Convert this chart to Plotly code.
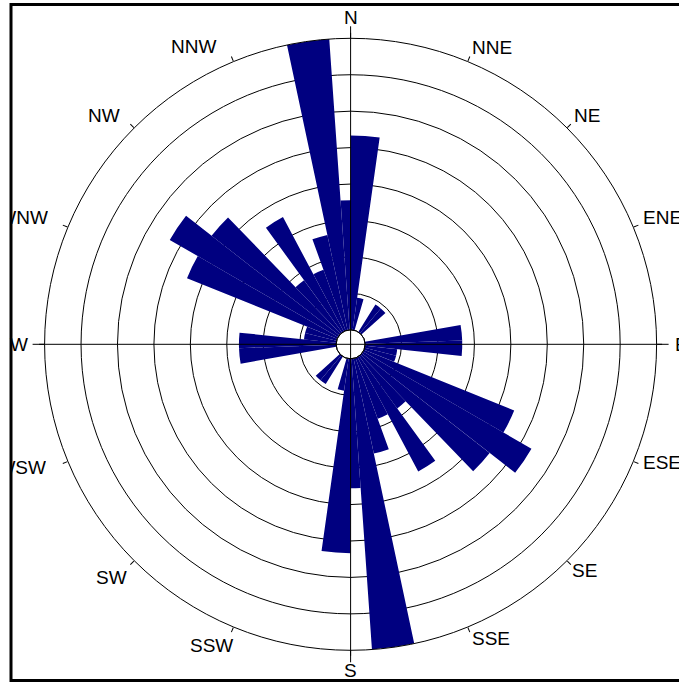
import plotly.graph_objects as go

# ---- data: axial rose diagram, 8-degree bins (0-180), mirrored through 180 ----
bin_centers = [4, 12, 20, 28, 36, 44, 52, 60, 68, 76, 84, 92, 100, 108,
               116, 124, 132, 140, 148, 156, 164, 172, 180]
counts = [6, 1, 0, 0, 1, 1, 0, 0, 0, 0, 3, 3, 1, 1,
          5, 6, 5, 2, 4, 2, 3, 9, 4]
bin_width = 8
compass_angles = [0, 22.5, 45, 67.5, 90, 112.5, 135, 157.5,
                  180, 202.5, 225, 247.5, 270, 292.5, 315, 337.5]
compass_labels = ["N", "NNE", "NE", "ENE", "E", "ESE", "SE", "SSE",
                  "S", "SSW", "SW", "WSW", "W", "WNW", "NW", "NNW"]
r_max = 9
n_rings = 8

theta_all = bin_centers + [(c + 180) % 360 for c in bin_centers]
r_all = counts + counts

# ---- geometry (pixels) ----
W, H = 679, 683
cx, cy, R = 350.6, 344.3, 306.0
hole_px = 14.5
frame_left = 11
FONT = "Liberation Sans, Arial, sans-serif"
FS = 19

# label anchor points (x edge / y centre, px) and horizontal anchor
label_pos = {
    "N": (cx, 17.5, "center"), "NNE": (470, 47.5, "left"), "NE": (572, 115.5, "left"),
    "ENE": (641, 217.5, "left"), "E": (673, 344, "left"), "ESE": (641, 462.5, "left"),
    "SE": (570, 570.5, "left"), "SSE": (470, 638.5, "left"), "S": (cx, 670, "center"),
    "SSW": (235, 645, "right"), "SW": (129, 577.5, "right"), "WSW": (48, 467.5, "right"),
    "W": (30, 344, "right"), "WNW": (50, 217.5, "right"), "NW": (122, 115.5, "right"),
    "NNW": (218, 47, "right"),
}


def px(x):
    return x / W


def py(y):
    return 1 - y / H


fig = go.Figure()
fig.add_trace(go.Barpolar(
    r=r_all, theta=theta_all, width=[bin_width] * len(theta_all),
    marker=dict(color="#000080", line=dict(width=0)),
    hoverinfo="skip",
))

ring_vals = [r_max * k / n_rings for k in range(1, n_rings)]

fig.update_layout(
    width=W, height=H,
    margin=dict(l=0, r=0, t=0, b=0, pad=0),
    paper_bgcolor="white",
    showlegend=False,
    font=dict(family=FONT, size=FS, color="black"),
    polar=dict(
        domain=dict(x=[px(cx - R), px(cx + R)], y=[py(cy + R), py(cy - R)]),
        bgcolor="white",
        hole=hole_px / R,
        bargap=0,
        radialaxis=dict(range=[0, r_max], tickvals=ring_vals, showticklabels=False,
                        ticks="", showline=False, showgrid=True,
                        gridcolor="black", gridwidth=1),
        angularaxis=dict(direction="clockwise", rotation=90,
                         tickmode="array", tickvals=compass_angles,
                         ticktext=compass_labels, showticklabels=False,
                         ticks="outside", ticklen=5, tickcolor="black", tickwidth=1,
                         showline=True, linecolor="black", linewidth=1,
                         showgrid=False),
    ),
)

# ---- compass labels ----
char_w = {"N": 0.722, "S": 0.667, "E": 0.667, "W": 0.944}
annotations = []
for lab in compass_labels:
    x, y, anchor = label_pos[lab]
    ann = dict(text=lab, xref="paper", yref="paper", showarrow=False,
               x=px(x), y=py(y), xanchor=anchor, yanchor="middle",
               font=dict(family=FONT, size=FS, color="black"))
    if anchor == "right":
        ann["align"] = "right"
        tw = sum(char_w[ch] for ch in lab) * FS
        visible = x - (frame_left + 1)
        if tw > visible:
            ann["width"] = max(visible, 1)
    annotations.append(ann)
fig.update_layout(annotations=annotations)

ext = 12
shapes = [
    dict(type="line", xref="paper", yref="paper", x0=px(cx), x1=px(cx),
         y0=py(cy - R - ext), y1=py(cy + R + ext), line=dict(color="black", width=1),
         layer="above"),
    dict(type="line", xref="paper", yref="paper", x0=px(cx - R - ext), x1=px(cx + R + ext),
         y0=py(cy), y1=py(cy), line=dict(color="black", width=1), layer="above"),
    dict(type="circle", xref="paper", yref="paper",
         x0=px(cx - hole_px), x1=px(cx + hole_px), y0=py(cy + hole_px), y1=py(cy - hole_px),
         line=dict(color="black", width=1), fillcolor="rgba(0,0,0,0)", layer="above"),
    dict(type="rect", xref="paper", yref="paper", x0=px(frame_left), x1=px(700),
         y0=py(680.5), y1=py(4.5), line=dict(color="black", width=3),
         fillcolor="rgba(0,0,0,0)", layer="above"),
]
fig.update_layout(shapes=shapes)

fig.write_html("out.html", config={"displayModeBar": False},
               post_script="document.body.style.margin='0px';document.body.style.padding='0px';")
